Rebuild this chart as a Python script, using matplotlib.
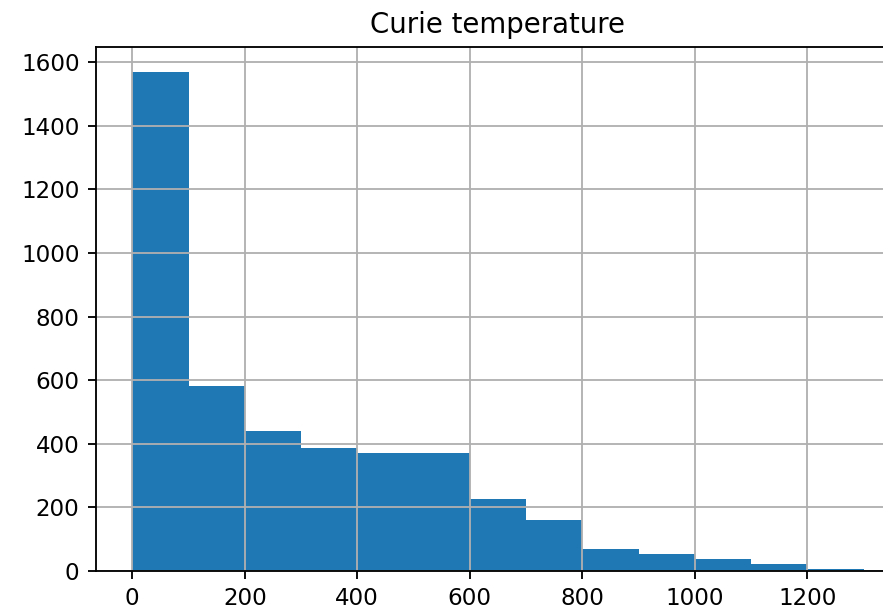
import matplotlib
matplotlib.use("Agg")
import matplotlib.pyplot as plt
import numpy as np

# histogram bins (Curie temperature) and counts
bin_edges = [0, 100, 200, 300, 400, 500, 600, 700, 800, 900, 1000, 1100, 1200, 1300]
counts = [1570, 582, 439, 387, 370, 370, 226, 160, 68, 52, 37, 21, 6]

bin_left = np.array(bin_edges[:-1])

fig = plt.figure(figsize=(883 / 166, 610 / 166), dpi=166)
ax = fig.add_axes([0.1084, 0.0639, 0.911, 0.8595])

ax.hist(bin_left, bins=bin_edges, weights=counts, color='#1f77b4')
ax.grid(True)
ax.set_title('Curie temperature')
ax.set_yticks([0, 200, 400, 600, 800, 1000, 1200, 1400, 1600])

fig.savefig('out.png', dpi=166)
